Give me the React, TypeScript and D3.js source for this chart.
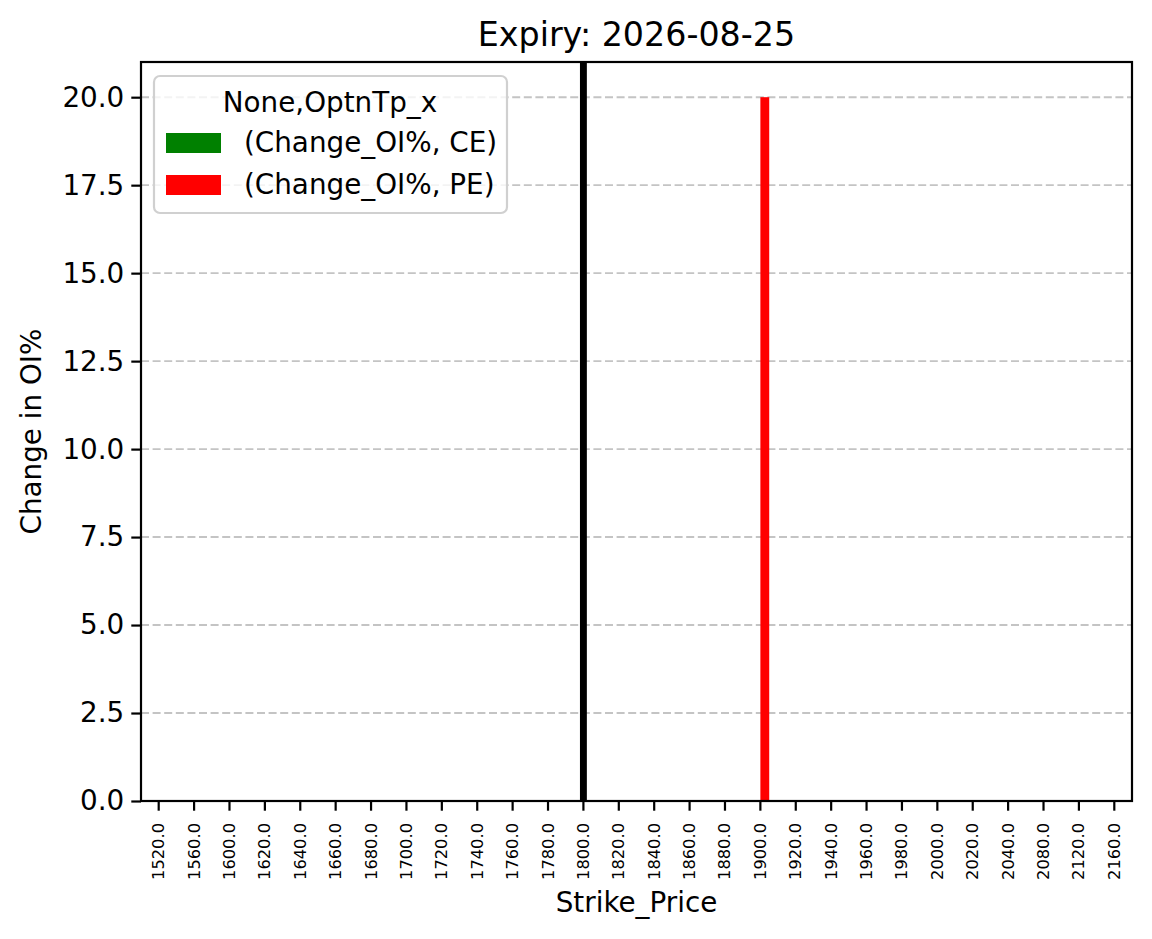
import React, { useEffect, useRef } from 'react';
import * as d3 from 'd3';

const strikes = [
  1520, 1560, 1600, 1620, 1640, 1660, 1680, 1700, 1720, 1740, 1760, 1780, 1800, 1820,
  1840, 1860, 1880, 1900, 1920, 1940, 1960, 1980, 2000, 2020, 2040, 2080, 2120, 2160,
];
const ceChange = [
  0, 0, 0, 0, 0, 0, 0, 0, 0, 0, 0, 0, 0, 0, 0, 0, 0, 0, 0, 0, 0, 0, 0, 0, 0, 0, 0, 0,
];
const peChange = [
  0, 0, 0, 0, 0, 0, 0, 0, 0, 0, 0, 0, 0, 0, 0, 0, 0, 20, 0, 0, 0, 0, 0, 0, 0, 0, 0, 0,
];
const seriesNames = ['(Change_OI%, CE)', '(Change_OI%, PE)'];
const seriesColors = ['green', 'red'];
const spotStrike = 1800;
const yTicks = [0, 2.5, 5, 7.5, 10, 12.5, 15, 17.5, 20];

const W = 1152;
const H = 939;
const FONT = 'DejaVu Sans, sans-serif';

const App: React.FC = () => {
  const chartRef = useRef(null);

  useEffect(() => {
    if (!chartRef.current) return;
    const svg = d3.select(chartRef.current);
    svg.selectAll('*').remove();

    const margin = { top: 62, right: 20, bottom: 138, left: 141 };
    const width = W - margin.left - margin.right;
    const height = H - margin.top - margin.bottom;

    const x = d3
      .scaleBand<string>()
      .domain(strikes.map(String))
      .range([0, width]);
    const y = d3.scaleLinear().domain([0, 21]).range([height, 0]);

    const chart = svg
      .append('g')
      .attr('transform', `translate(${margin.left},${margin.top})`);

    // horizontal dashed grid
    chart
      .append('g')
      .selectAll('line')
      .data(yTicks)
      .enter()
      .append('line')
      .attr('x1', 0)
      .attr('x2', width)
      .attr('y1', (d) => y(d))
      .attr('y2', (d) => y(d))
      .attr('stroke', '#c4c4c4')
      .attr('stroke-width', 1.9)
      .attr('stroke-dasharray', '8,3.6');

    // bars: two series per strike, each a quarter of the band
    const barW = x.bandwidth() * 0.25;
    const rows = strikes.map((s, i) => ({ s: String(s), vals: [ceChange[i], peChange[i]] }));
    chart
      .append('g')
      .selectAll('g')
      .data(rows)
      .enter()
      .append('g')
      .attr('transform', (d) => `translate(${(x(d.s) || 0) + x.bandwidth() / 2},0)`)
      .selectAll('rect')
      .data((d) => d.vals.map((v, k) => ({ v, k })))
      .enter()
      .append('rect')
      .attr('x', (d) => (d.k === 0 ? -barW : 0))
      .attr('y', (d) => y(d.v))
      .attr('width', barW)
      .attr('height', (d) => height - y(d.v))
      .attr('fill', (d) => seriesColors[d.k]);

    // spot line
    const sx = (x(String(spotStrike)) || 0) + x.bandwidth() / 2;
    chart
      .append('line')
      .attr('x1', sx)
      .attr('x2', sx)
      .attr('y1', 0)
      .attr('y2', height)
      .attr('stroke', 'black')
      .attr('stroke-width', 6.9);

    // axes
    const xAxis = chart
      .append('g')
      .attr('transform', `translate(0,${height})`)
      .call(d3.axisBottom(x).tickSizeInner(9.7).tickSizeOuter(0).tickFormat((d) => `${d}.0`));
    xAxis.select('.domain').remove();
    xAxis.selectAll('line').attr('stroke-width', 2.2);
    xAxis
      .selectAll('text')
      .attr('font-family', FONT)
      .attr('font-size', 16.3)
      .attr('fill', 'black')
      .attr('text-anchor', 'end')
      .attr('dominant-baseline', 'central')
      .attr('transform', 'translate(0,22) rotate(-90)')
      .attr('x', 0)
      .attr('y', 0)
      .attr('dy', null);

    const yAxis = chart
      .append('g')
      .call(d3.axisLeft(y).tickValues(yTicks).tickSizeInner(9.7).tickSizeOuter(0).tickPadding(7).tickFormat(d3.format('.1f')));
    yAxis.select('.domain').remove();
    yAxis.selectAll('line').attr('stroke-width', 2.2);
    yAxis
      .selectAll('text')
      .attr('font-family', FONT)
      .attr('font-size', 27.8)
      .attr('fill', 'black');

    // frame
    chart
      .append('rect')
      .attr('width', width)
      .attr('height', height)
      .attr('fill', 'none')
      .attr('stroke', 'black')
      .attr('stroke-width', 2.2);

    // title and labels
    svg
      .append('text')
      .attr('x', margin.left + width / 2)
      .attr('y', 46)
      .attr('text-anchor', 'middle')
      .attr('font-family', FONT)
      .attr('font-size', 33.3)
      .text('Expiry: 2026-08-25');

    svg
      .append('text')
      .attr('x', margin.left + width / 2)
      .attr('y', 912)
      .attr('text-anchor', 'middle')
      .attr('font-family', FONT)
      .attr('font-size', 27.8)
      .text('Strike_Price');

    svg
      .append('text')
      .attr('transform', `translate(41,${margin.top + height / 2}) rotate(-90)`)
      .attr('text-anchor', 'middle')
      .attr('font-family', FONT)
      .attr('font-size', 27.8)
      .text('Change in OI%');

    // legend
    const legend = chart.append('g').attr('transform', 'translate(13,14)');
    legend
      .append('rect')
      .attr('width', 353)
      .attr('height', 137)
      .attr('rx', 6)
      .attr('fill', 'white')
      .attr('fill-opacity', 0.8)
      .attr('stroke', '#d0d0d0')
      .attr('stroke-width', 2.2);
    legend
      .append('text')
      .attr('x', 176)
      .attr('y', 36)
      .attr('text-anchor', 'middle')
      .attr('font-family', FONT)
      .attr('font-size', 27.8)
      .text('None,OptnTp_x');
    const items = legend
      .selectAll('g.item')
      .data(seriesNames)
      .enter()
      .append('g')
      .attr('class', 'item')
      .attr('transform', (d, i) => `translate(0,${57 + i * 42})`);
    items
      .append('rect')
      .attr('x', 12)
      .attr('width', 55)
      .attr('height', 20)
      .attr('fill', (d, i) => seriesColors[i]);
    items
      .append('text')
      .attr('x', 90)
      .attr('y', 19)
      .attr('font-family', FONT)
      .attr('font-size', 27.8)
      .text((d) => d);

    return () => {
      svg.selectAll('*').remove();
    };
  }, []);

  return (
    <svg
      ref={chartRef}
      width={W}
      height={H}
      style={{ position: 'absolute', left: 0, top: 0, background: 'white' }}
    ></svg>
  );
};

export default App;
